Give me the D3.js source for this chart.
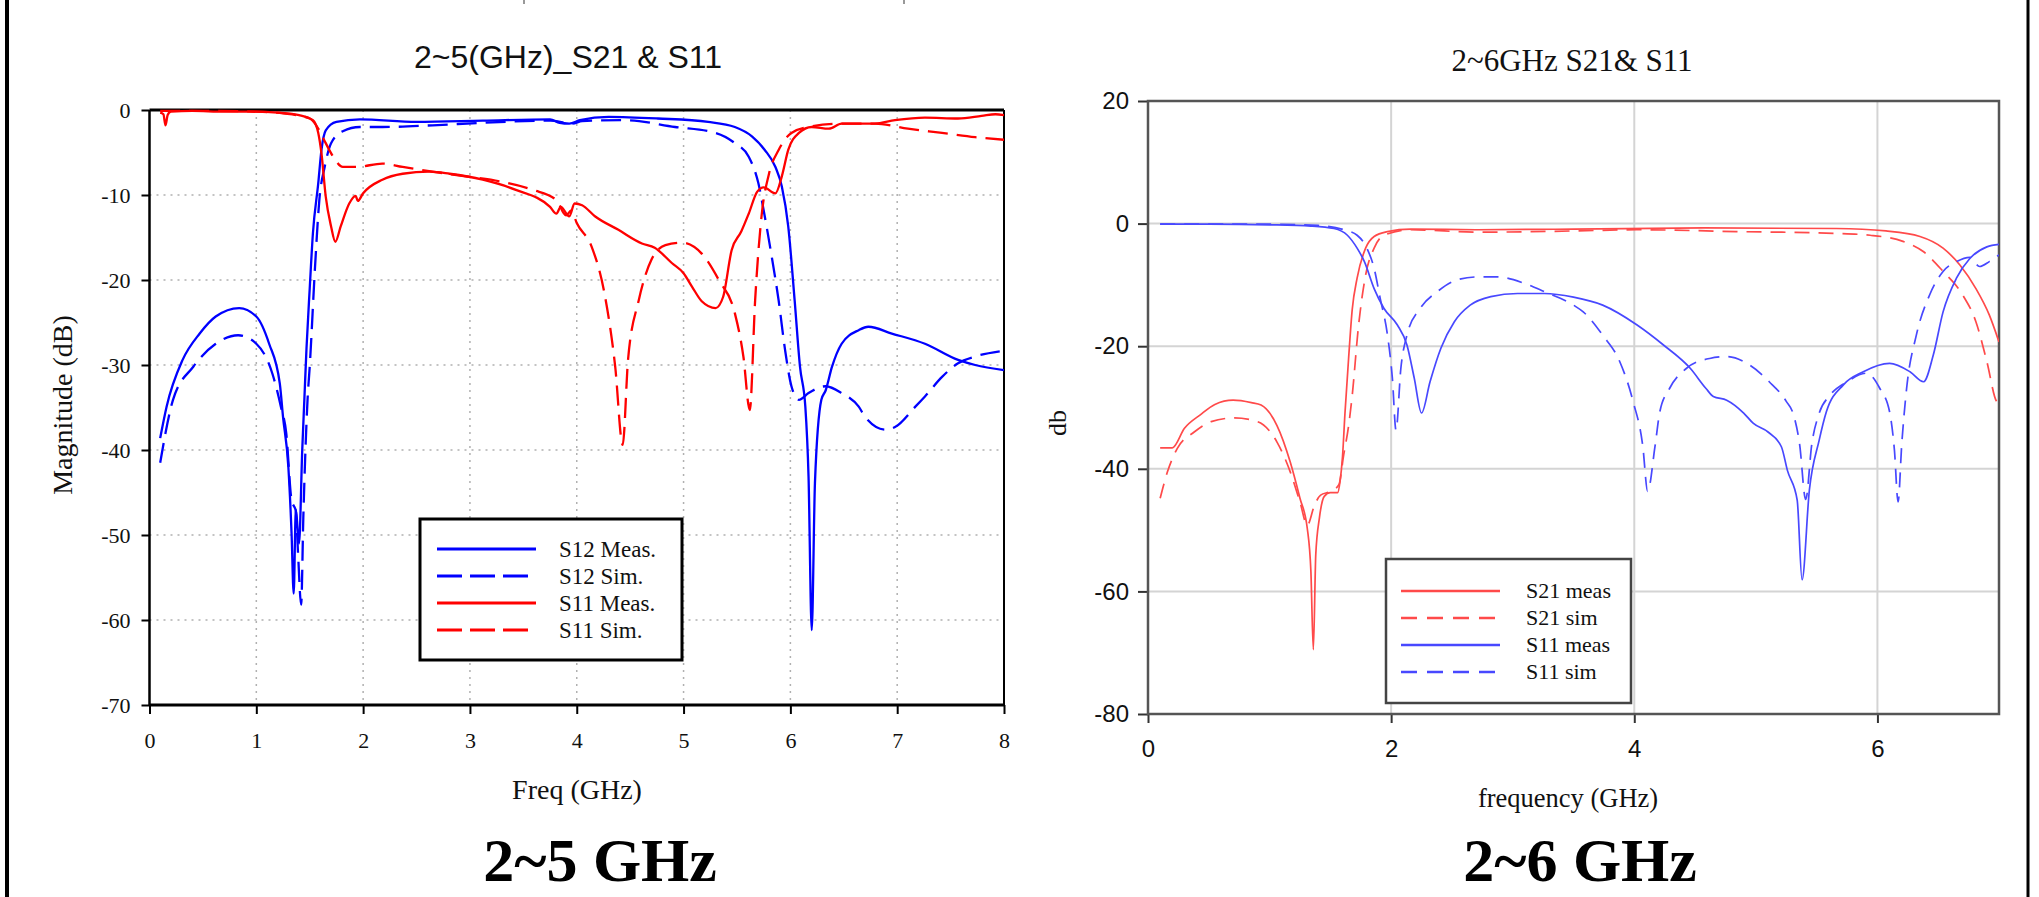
<!DOCTYPE html>
<html>
<head>
<meta charset="utf-8">
<script src="https://cdn.jsdelivr.net/npm/d3@7"></script>
<style>
  body { margin: 0; background: #fff; }
  svg { display: block; }
</style>
</head>
<body>
<svg id="chart" width="2039" height="897"></svg>
<script>
// ---- left chart data: [freq GHz, dB] ----
var leftS12Meas = [[0.10,-38.6],[0.16,-34.9],[0.31,-29.4],[0.47,-26.3],[0.62,-24.3],[0.84,-23.3],[1.0,-24.3],[1.12,-27.5],[1.22,-32.2],[1.25,-36.1],[1.30,-42],[1.33,-49.8],[1.35,-56.9],[1.37,-47],[1.40,-51],[1.43,-40],[1.45,-34],[1.47,-28],[1.50,-21],[1.53,-14.5],[1.58,-8.6],[1.61,-4.7],[1.65,-2.4],[1.75,-1.4],[1.97,-1.1],[2.5,-1.4],[3.12,-1.25],[3.75,-1.1],[3.84,-1.5],[3.93,-1.6],[4.03,-1.2],[4.3,-0.8],[4.76,-1.0],[5.23,-1.4],[5.48,-2],[5.64,-3.1],[5.76,-4.7],[5.86,-6.7],[5.92,-9],[5.98,-13.7],[6.04,-22.4],[6.09,-30.2],[6.14,-34.9],[6.17,-43.1],[6.20,-61.2],[6.23,-43.9],[6.29,-34.1],[6.33,-33],[6.39,-30.2],[6.48,-27.5],[6.64,-25.9],[6.73,-25.5],[6.95,-26.3],[7.26,-27.5],[7.57,-29.4],[7.73,-30],[8.0,-30.6]];
var leftS12Sim = [[0.10,-41.5],[0.22,-34.1],[0.41,-30.2],[0.62,-27.5],[0.83,-26.5],[1.0,-27.5],[1.15,-31],[1.23,-34.9],[1.28,-38],[1.33,-45.9],[1.37,-47.2],[1.39,-52],[1.42,-58.2],[1.44,-48],[1.46,-40],[1.48,-34],[1.50,-30.2],[1.55,-18.4],[1.59,-10.6],[1.64,-6.7],[1.70,-3.9],[1.81,-2.5],[1.97,-2.0],[2.18,-2.0],[2.65,-1.8],[3.12,-1.5],[3.75,-1.25],[3.96,-1.6],[4.05,-1.3],[4.45,-1.2],[4.92,-2.0],[5.3,-2.7],[5.48,-3.9],[5.61,-5.5],[5.70,-8.6],[5.76,-12.5],[5.83,-17.6],[5.89,-22.4],[5.95,-28.2],[6.01,-32.5],[6.08,-34.1],[6.17,-33.3],[6.33,-32.5],[6.48,-33.3],[6.64,-34.9],[6.70,-36.1],[6.89,-37.6],[6.98,-37.3],[7.17,-34.9],[7.26,-33.7],[7.42,-31.4],[7.57,-29.8],[7.73,-29],[7.96,-28.4]];
var leftS11Meas = [[0.10,-0.3],[0.13,-0.5],[0.15,-1.8],[0.17,-0.6],[0.20,-0.2],[0.4,-0.1],[0.7,-0.2],[0.94,-0.2],[1.2,-0.3],[1.4,-0.6],[1.53,-1.2],[1.58,-2.7],[1.61,-5.1],[1.65,-10.2],[1.70,-13.7],[1.74,-15.5],[1.79,-13.7],[1.87,-11],[1.93,-10.1],[1.95,-10.7],[2.0,-9.8],[2.18,-8.2],[2.37,-7.5],[2.62,-7.25],[2.81,-7.5],[3.12,-8.2],[3.43,-9.4],[3.75,-11.4],[3.81,-12.2],[3.85,-11.4],[3.93,-12.5],[3.98,-11],[4.05,-11.2],[4.17,-12.5],[4.39,-14.1],[4.61,-15.7],[4.73,-16.2],[4.89,-18],[5.0,-19.2],[5.08,-20.8],[5.17,-22.5],[5.3,-23.3],[5.37,-22],[5.45,-16.5],[5.54,-14.3],[5.61,-12.2],[5.69,-9.6],[5.75,-9.1],[5.86,-9.8],[5.92,-7.8],[5.98,-4.7],[6.08,-2.7],[6.2,-2.0],[6.36,-2.2],[6.48,-1.6],[6.79,-1.6],[6.98,-1.2],[7.26,-0.9],[7.57,-1.0],[7.79,-0.7],[7.92,-0.5],[8.0,-0.6]];
var leftS11Sim = [[0.10,-0.1],[0.5,-0.1],[1.0,-0.2],[1.25,-0.4],[1.5,-1.0],[1.59,-2.4],[1.65,-3.9],[1.72,-5.5],[1.81,-6.7],[1.94,-6.7],[2.18,-6.3],[2.37,-6.7],[2.65,-7.25],[2.96,-7.8],[3.28,-8.4],[3.59,-9.4],[3.81,-10.6],[3.90,-12.4],[3.95,-11.8],[4.0,-13.3],[4.14,-16.1],[4.26,-21.6],[4.36,-30.2],[4.43,-39.4],[4.48,-29.4],[4.58,-22.4],[4.70,-17.6],[4.83,-15.9],[4.98,-15.6],[5.17,-16.9],[5.33,-20],[5.48,-23.9],[5.56,-29],[5.62,-35.3],[5.67,-22.4],[5.73,-12.5],[5.80,-7.5],[5.89,-4.7],[6.01,-2.7],[6.17,-2.0],[6.48,-1.6],[6.79,-1.6],[7.1,-2.2],[7.42,-2.7],[7.73,-3.2],[8.0,-3.5]];

// ---- right chart data ----
var rightS21Meas = [[0.10,-36.6],[0.20,-36.6],[0.30,-33.4],[0.43,-31.2],[0.55,-29.5],[0.70,-28.8],[0.85,-29.2],[0.93,-29.6],[1.06,-32.9],[1.17,-38.9],[1.25,-44.8],[1.31,-49.7],[1.34,-56.8],[1.36,-69.5],[1.38,-54],[1.41,-48],[1.45,-44.5],[1.50,-43.9],[1.56,-43.9],[1.58,-42],[1.60,-38],[1.62,-31],[1.65,-22],[1.68,-14],[1.72,-8.9],[1.79,-4.0],[1.86,-2.1],[1.97,-1.3],[2.16,-0.9],[2.71,-1.0],[3.5,-0.9],[4.57,-0.7],[5.66,-0.8],[6.07,-1.2],[6.35,-2.1],[6.54,-4.0],[6.68,-6.8],[6.81,-10.6],[6.92,-14.9],[7.0,-19.3]];
var rightS21Sim = [[0.10,-44.8],[0.16,-40.5],[0.24,-36.7],[0.38,-34],[0.52,-32.3],[0.71,-31.7],[0.90,-32.3],[1.06,-35.6],[1.17,-40.5],[1.25,-45.4],[1.31,-49.2],[1.37,-45.9],[1.42,-44.3],[1.50,-43.7],[1.57,-42.6],[1.61,-37.7],[1.65,-33],[1.68,-28],[1.73,-17],[1.79,-8.4],[1.86,-4.0],[1.94,-1.9],[2.16,-1.0],[2.71,-1.4],[3.5,-1.2],[4.02,-1.0],[4.84,-1.3],[5.66,-1.6],[5.94,-1.9],[6.21,-2.9],[6.38,-4.6],[6.54,-7.8],[6.70,-11.6],[6.81,-16],[6.90,-22.5],[6.98,-29],[7.0,-29.3]];
var rightS11Meas = [[0.10,-0.1],[0.5,-0.1],[1.0,-0.2],[1.34,-0.4],[1.53,-0.8],[1.64,-1.9],[1.72,-4.0],[1.78,-6.2],[1.86,-10.6],[1.94,-13.8],[2.05,-16.5],[2.13,-19.8],[2.19,-25.2],[2.25,-30.9],[2.32,-25.8],[2.41,-20.3],[2.52,-16],[2.65,-13.3],[2.82,-11.9],[3.04,-11.4],[3.26,-11.4],[3.5,-12.0],[3.74,-13.3],[4.02,-16.5],[4.24,-19.8],[4.46,-23.6],[4.59,-26.9],[4.65,-28.2],[4.76,-28.8],[4.90,-30.9],[4.98,-32.6],[5.10,-34],[5.21,-36.4],[5.26,-40.3],[5.34,-45.1],[5.38,-58.1],[5.44,-43.5],[5.52,-35.4],[5.58,-30.7],[5.72,-26.3],[5.88,-24.2],[6.10,-22.8],[6.27,-24.2],[6.38,-25.8],[6.46,-21.4],[6.54,-14.4],[6.65,-8.9],[6.76,-5.7],[6.9,-3.8],[7.0,-3.4]];
var rightS11Sim = [[0.10,-0.1],[0.5,-0.1],[1.0,-0.1],[1.4,-0.3],[1.61,-1.0],[1.72,-1.9],[1.80,-4.0],[1.86,-7.3],[1.91,-12.2],[1.97,-18.2],[2.01,-25.2],[2.04,-33.7],[2.08,-23.6],[2.13,-18.2],[2.24,-13.8],[2.38,-11.1],[2.54,-9.2],[2.71,-8.7],[2.87,-8.7],[3.09,-9.7],[3.26,-11.1],[3.5,-13.3],[3.58,-14.4],[3.74,-18.2],[3.88,-22.5],[3.99,-29],[4.07,-36.3],[4.11,-43.7],[4.17,-36.4],[4.21,-30.7],[4.29,-26.9],[4.43,-23.6],[4.62,-22],[4.76,-21.7],[4.95,-23.1],[5.11,-25.8],[5.25,-29.0],[5.31,-31.2],[5.36,-36],[5.41,-45],[5.46,-36],[5.52,-31],[5.61,-28],[5.75,-25.8],[5.91,-24.4],[6.02,-26.9],[6.10,-30.7],[6.14,-37],[6.17,-45.4],[6.20,-36],[6.24,-26.9],[6.32,-18.2],[6.43,-11.6],[6.54,-7.8],[6.65,-6.2],[6.76,-5.5],[6.84,-7.0],[6.92,-6.2],[7.0,-5.1]];

// ---- ticks and labels ----
var leftXTicks = [0, 1, 2, 3, 4, 5, 6, 7, 8];
var leftYTicks = [0, -10, -20, -30, -40, -50, -60, -70];
var rightXTicks = [0, 2, 4, 6];
var rightYTicks = [20, 0, -20, -40, -60, -80];
var leftLegend = ["S12 Meas.", "S12 Sim.", "S11 Meas.", "S11 Sim."];
var rightLegend = ["S21 meas", "S21 sim", "S11 meas", "S11 sim"];

var serif = "Liberation Serif, Times New Roman, serif";
var sans = "Liberation Sans, Arial, sans-serif";

var svg = d3.select("#chart");

// outer frame lines
svg.append("line").attr("x1", 7).attr("x2", 7).attr("y1", 0).attr("y2", 897)
	.attr("stroke", "#000").attr("stroke-width", 4);
svg.append("line").attr("x1", 2028).attr("x2", 2028).attr("y1", 0).attr("y2", 897)
	.attr("stroke", "#000").attr("stroke-width", 3);
// small cut-off marks at the very top
svg.append("line").attr("x1", 524).attr("x2", 524).attr("y1", 0).attr("y2", 4)
	.attr("stroke", "#555").attr("stroke-width", 1.2);
svg.append("line").attr("x1", 904).attr("x2", 904).attr("y1", 0).attr("y2", 4)
	.attr("stroke", "#555").attr("stroke-width", 1.2);

// ================= LEFT CHART =================
var lx = d3.scaleLinear().domain([0, 8]).range([149.5, 1004]);
var ly = d3.scaleLinear().domain([-70, 0]).range([705, 110]);

var left = svg.append("g");

left.append("clipPath").attr("id", "clipL").append("rect")
	.attr("x", lx(0)).attr("y", ly(0) - 2).attr("width", lx(8) - lx(0)).attr("height", ly(-70) - ly(0) + 4);

// dotted grid
left.selectAll(".vgrid").data(leftXTicks.slice(1, -1)).enter().append("line")
	.attr("x1", function(d) { return lx(d); }).attr("x2", function(d) { return lx(d); })
	.attr("y1", ly(0)).attr("y2", ly(-70))
	.attr("stroke", "#b0b0b0").attr("stroke-width", 1.5).attr("stroke-dasharray", "2,5");
left.selectAll(".hgrid").data(leftYTicks.slice(1, -1)).enter().append("line")
	.attr("x1", lx(0)).attr("x2", lx(8))
	.attr("y1", function(d) { return ly(d); }).attr("y2", function(d) { return ly(d); })
	.attr("stroke", "#b0b0b0").attr("stroke-width", 1.5).attr("stroke-dasharray", "2,5");

// axes
var lxAxis = d3.axisBottom(lx).tickValues(leftXTicks).tickSize(9).tickPadding(18)
	.tickFormat(function(d) { return String(d); });
left.append("g").attr("transform", "translate(0," + ly(-70) + ")").call(lxAxis)
	.call(function(g) {
		g.select(".domain").remove();
		g.selectAll("line").attr("stroke", "#000").attr("stroke-width", 2);
		g.selectAll("text").attr("font-family", serif).attr("font-size", 22).attr("fill", "#111");
	});

var lyAxis = d3.axisLeft(ly).tickValues(leftYTicks).tickSize(8).tickPadding(11)
	.tickFormat(function(d) { return String(d); });
left.append("g").attr("transform", "translate(" + lx(0) + ",0)").call(lyAxis)
	.call(function(g) {
		g.select(".domain").remove();
		g.selectAll("line").attr("stroke", "#000").attr("stroke-width", 2);
		g.selectAll("text").attr("font-family", serif).attr("font-size", 22).attr("fill", "#111");
	});

// frame
left.append("line").attr("x1", lx(0)).attr("x2", lx(8)).attr("y1", ly(0)).attr("y2", ly(0)).attr("stroke", "#000").attr("stroke-width", 3);
left.append("line").attr("x1", lx(0)).attr("x2", lx(8)).attr("y1", ly(-70)).attr("y2", ly(-70)).attr("stroke", "#000").attr("stroke-width", 3);
left.append("line").attr("x1", lx(0)).attr("x2", lx(0)).attr("y1", ly(0)).attr("y2", ly(-70)).attr("stroke", "#000").attr("stroke-width", 2.5);
left.append("line").attr("x1", lx(8)).attr("x2", lx(8)).attr("y1", ly(0)).attr("y2", ly(-70)).attr("stroke", "#000").attr("stroke-width", 2);

var lLine = d3.line()
	.x(function(d) { return lx(d[0]); })
	.y(function(d) { return ly(d[1]); })
	.curve(d3.curveMonotoneX);

var leftSeries = [
	{ data: leftS12Meas, color: "#0000ff", dash: null },
	{ data: leftS12Sim, color: "#0000ff", dash: "20,9" },
	{ data: leftS11Meas, color: "#ff0000", dash: null },
	{ data: leftS11Sim, color: "#ff0000", dash: "20,9" }
];

left.append("g").attr("clip-path", "url(#clipL)")
	.selectAll("path").data(leftSeries).enter().append("path")
		.attr("d", function(d) { return lLine(d.data); })
		.attr("fill", "none")
		.attr("stroke", function(d) { return d.color; })
		.attr("stroke-width", 2.3)
		.attr("stroke-dasharray", function(d) { return d.dash; });

// legend
var lLeg = left.append("g");
lLeg.append("rect").attr("x", 420).attr("y", 519).attr("width", 262).attr("height", 141)
	.attr("fill", "#fff").attr("stroke", "#000").attr("stroke-width", 3);
var lRows = [549, 576, 603, 630];
leftSeries.forEach(function(s, i) {
	lLeg.append("line").attr("x1", 437).attr("x2", 536).attr("y1", lRows[i]).attr("y2", lRows[i])
		.attr("stroke", s.color).attr("stroke-width", 3).attr("stroke-dasharray", s.dash ? "25,8" : null);
	lLeg.append("text").attr("x", 559).attr("y", lRows[i] + 7.5)
		.attr("font-family", serif).attr("font-size", 23).attr("fill", "#111")
		.text(leftLegend[i]);
});

// titles and labels
left.append("text").attr("x", 568).attr("y", 68).attr("text-anchor", "middle")
	.attr("font-family", sans).attr("font-size", 32).attr("fill", "#111")
	.text("2~5(GHz)_S21 & S11");
left.append("text").attr("transform", "translate(72,405)rotate(-90)").attr("text-anchor", "middle")
	.attr("font-family", serif).attr("font-size", 28).attr("fill", "#111")
	.text("Magnitude (dB)");
left.append("text").attr("x", 577).attr("y", 799).attr("text-anchor", "middle")
	.attr("font-family", serif).attr("font-size", 28).attr("fill", "#111")
	.text("Freq (GHz)");
left.append("text").attr("x", 600).attr("y", 881).attr("text-anchor", "middle")
	.attr("font-family", serif).attr("font-size", 62).attr("font-weight", "bold").attr("fill", "#000")
	.text("2~5 GHz");

// ================= RIGHT CHART =================
var rx = d3.scaleLinear().domain([0, 7]).range([1148, 1999]);
var ry = d3.scaleLinear().domain([-80, 20]).range([714, 101]);

var right = svg.append("g");

right.append("clipPath").attr("id", "clipR").append("rect")
	.attr("x", rx(0)).attr("y", ry(20)).attr("width", rx(7) - rx(0)).attr("height", ry(-80) - ry(20));

right.selectAll(".vgrid").data(rightXTicks.slice(1)).enter().append("line")
	.attr("x1", function(d) { return rx(d); }).attr("x2", function(d) { return rx(d); })
	.attr("y1", ry(20)).attr("y2", ry(-80))
	.attr("stroke", "#d4d4d4").attr("stroke-width", 2);
right.selectAll(".hgrid").data(rightYTicks.slice(1, -1)).enter().append("line")
	.attr("x1", rx(0)).attr("x2", rx(7))
	.attr("y1", function(d) { return ry(d); }).attr("y2", function(d) { return ry(d); })
	.attr("stroke", "#d4d4d4").attr("stroke-width", 2);

var rxAxis = d3.axisBottom(rx).tickValues(rightXTicks).tickSize(9).tickPadding(17)
	.tickFormat(function(d) { return String(d); });
right.append("g").attr("transform", "translate(0," + ry(-80) + ")").call(rxAxis)
	.call(function(g) {
		g.select(".domain").remove();
		g.selectAll("line").attr("stroke", "#333").attr("stroke-width", 2);
		g.selectAll("text").attr("font-family", sans).attr("font-size", 24).attr("fill", "#111");
	});

var ryAxis = d3.axisLeft(ry).tickValues(rightYTicks).tickSize(10).tickPadding(9)
	.tickFormat(function(d) { return String(d); });
right.append("g").attr("transform", "translate(" + rx(0) + ",0)").call(ryAxis)
	.call(function(g) {
		g.select(".domain").remove();
		g.selectAll("line").attr("stroke", "#333").attr("stroke-width", 2);
		g.selectAll("text").attr("font-family", sans).attr("font-size", 24).attr("fill", "#111");
	});

right.append("rect").attr("x", rx(0)).attr("y", ry(20)).attr("width", rx(7) - rx(0)).attr("height", ry(-80) - ry(20))
	.attr("fill", "none").attr("stroke", "#555").attr("stroke-width", 2.5);

var rLine = d3.line()
	.x(function(d) { return rx(d[0]); })
	.y(function(d) { return ry(d[1]); })
	.curve(d3.curveMonotoneX);

var rightSeries = [
	{ data: rightS21Meas, color: "#ff4a4a", dash: null },
	{ data: rightS21Sim, color: "#ff4a4a", dash: "15,9" },
	{ data: rightS11Meas, color: "#4848ff", dash: null },
	{ data: rightS11Sim, color: "#4848ff", dash: "15,9" }
];

right.append("g").attr("clip-path", "url(#clipR)")
	.selectAll("path").data(rightSeries).enter().append("path")
		.attr("d", function(d) { return rLine(d.data); })
		.attr("fill", "none")
		.attr("stroke", function(d) { return d.color; })
		.attr("stroke-width", 1.7)
		.attr("stroke-dasharray", function(d) { return d.dash; });

var rLeg = right.append("g");
rLeg.append("rect").attr("x", 1386).attr("y", 559).attr("width", 245).attr("height", 144)
	.attr("fill", "#fff").attr("stroke", "#444").attr("stroke-width", 2.5);
var rRows = [591, 618, 645, 672];
rightSeries.forEach(function(s, i) {
	rLeg.append("line").attr("x1", 1401).attr("x2", 1500).attr("y1", rRows[i]).attr("y2", rRows[i])
		.attr("stroke", s.color).attr("stroke-width", 2.5).attr("stroke-dasharray", s.dash ? "16,10" : null);
	rLeg.append("text").attr("x", 1526).attr("y", rRows[i] + 7)
		.attr("font-family", serif).attr("font-size", 22).attr("fill", "#111")
		.text(rightLegend[i]);
});

right.append("text").attr("x", 1572).attr("y", 71).attr("text-anchor", "middle")
	.attr("font-family", serif).attr("font-size", 31).attr("fill", "#111")
	.text("2~6GHz S21& S11");
right.append("text").attr("transform", "translate(1066,423)rotate(-90)").attr("text-anchor", "middle")
	.attr("font-family", serif).attr("font-size", 26).attr("fill", "#111")
	.text("db");
right.append("text").attr("x", 1568).attr("y", 807).attr("text-anchor", "middle")
	.attr("font-family", serif).attr("font-size", 26.5).attr("fill", "#111")
	.text("frequency (GHz)");
right.append("text").attr("x", 1580).attr("y", 881).attr("text-anchor", "middle")
	.attr("font-family", serif).attr("font-size", 62).attr("font-weight", "bold").attr("fill", "#000")
	.text("2~6 GHz");
</script>
</body>
</html>
